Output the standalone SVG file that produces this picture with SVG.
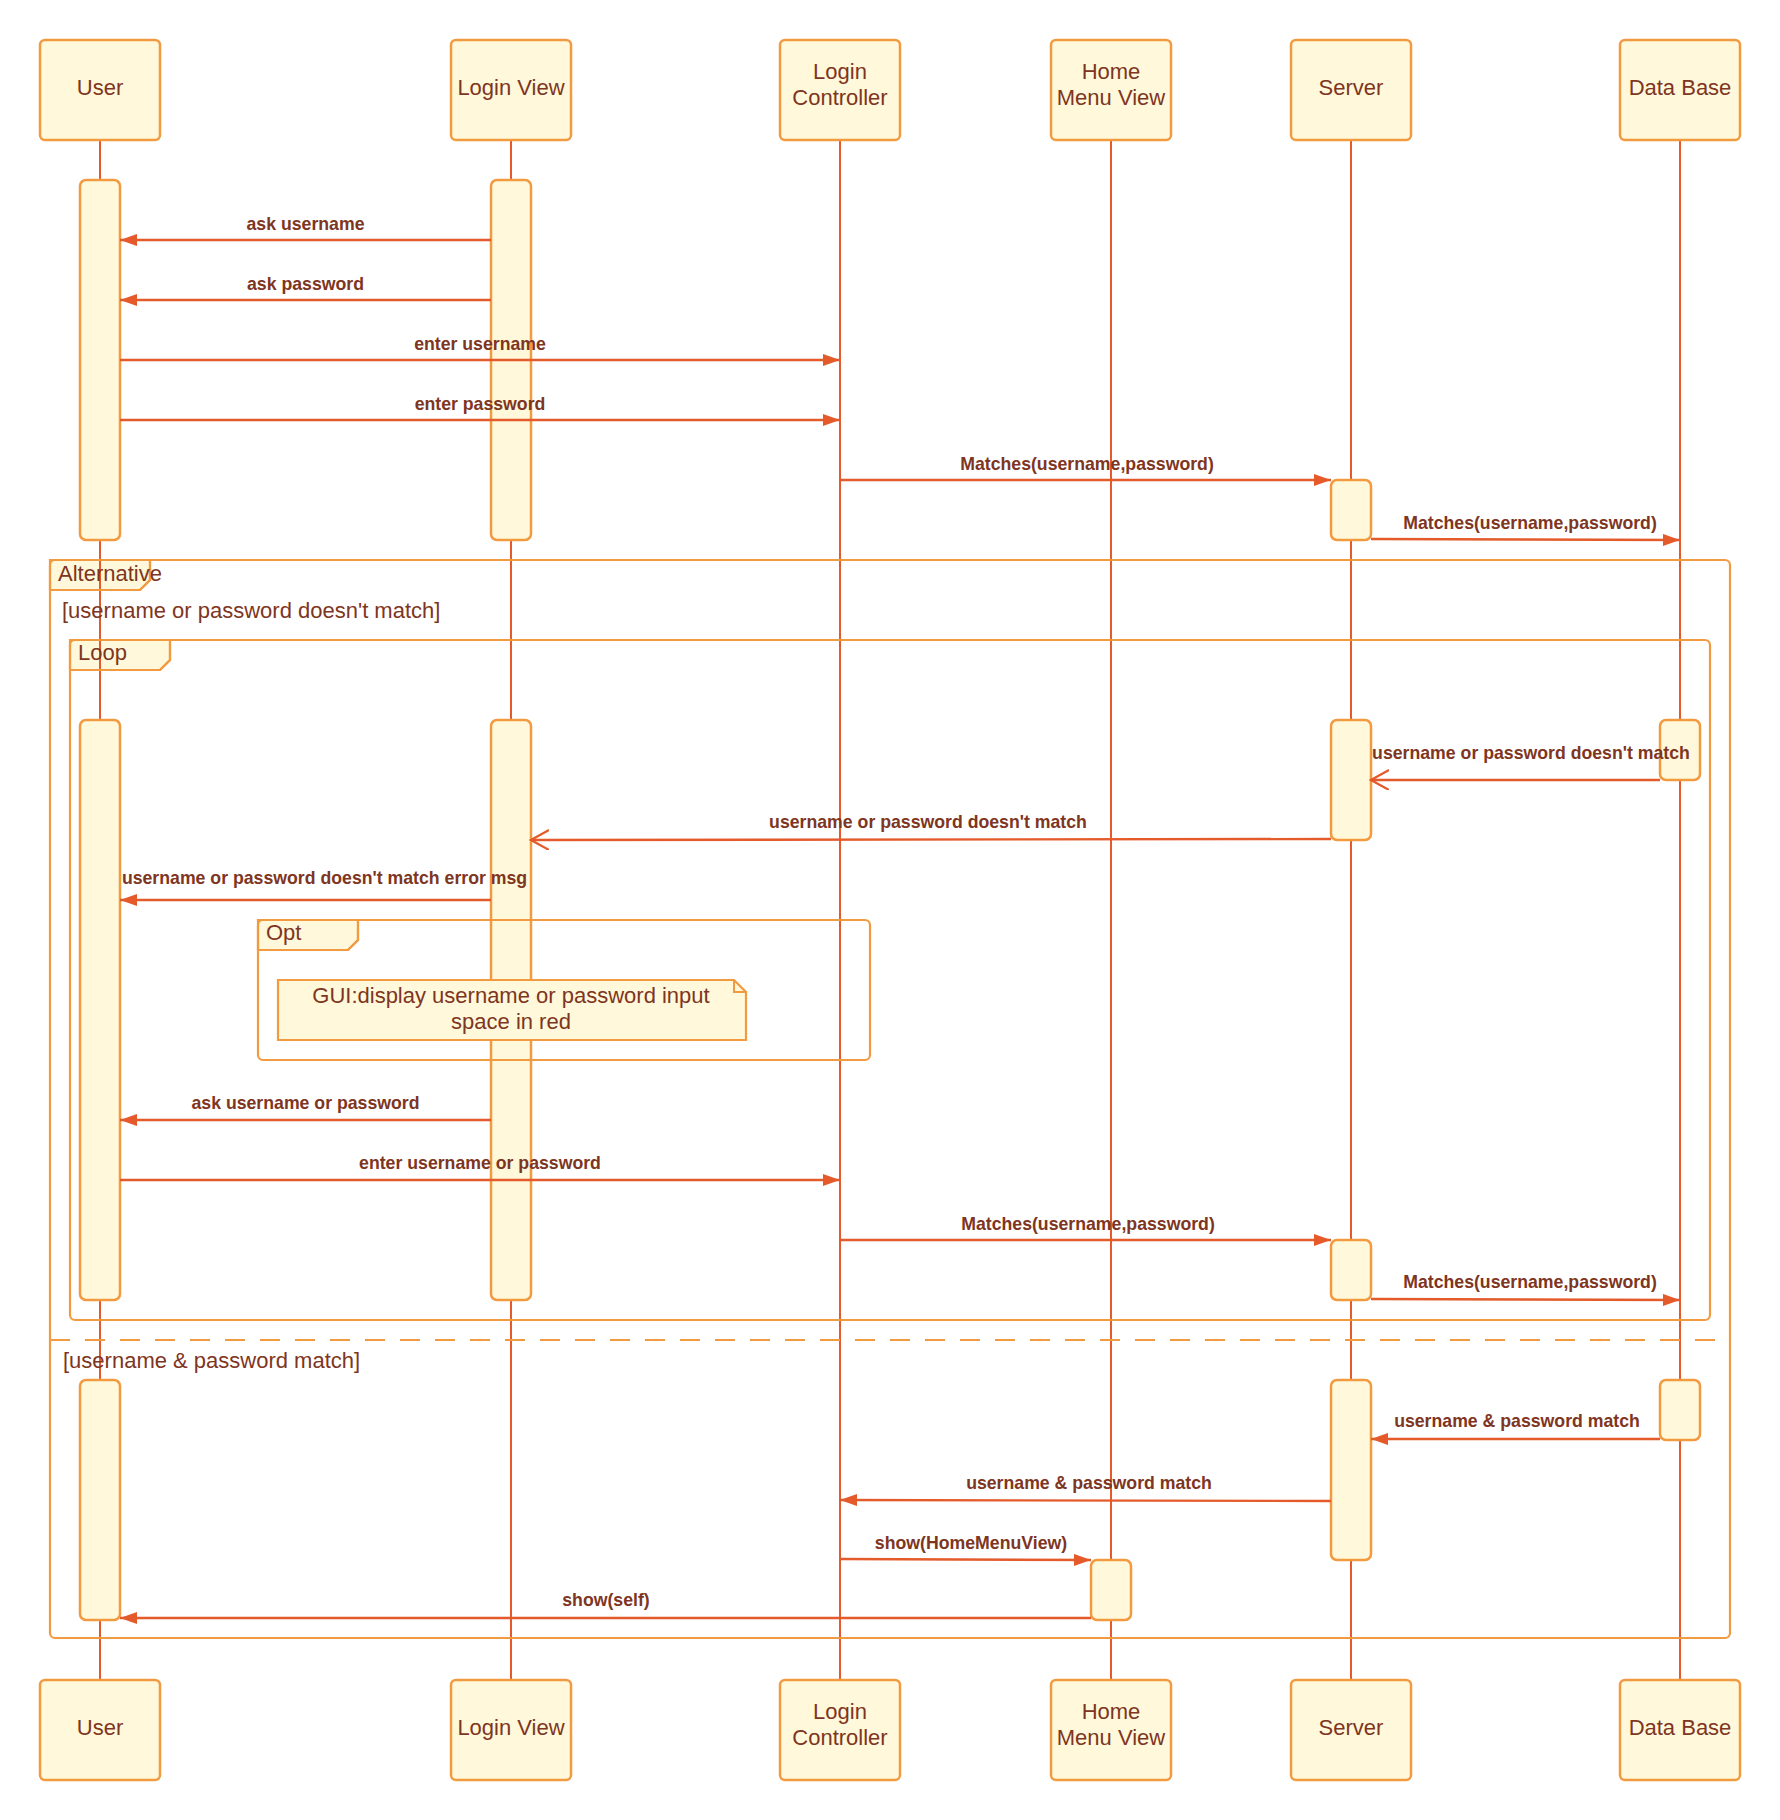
<svg xmlns="http://www.w3.org/2000/svg" width="1780" height="1820" viewBox="0 0 1780 1820">
<defs>
<style>
.box{fill:#FFF8DA;stroke:#F29A40;stroke-width:2.5}
.act{fill:#FFF8DA;stroke:#F29A40;stroke-width:2.5}
.life{stroke:#E45A2B;stroke-width:2;fill:none}
.frame{fill:none;stroke:#F29A40;stroke-width:2.2}
.tab{fill:#FFF8DA;stroke:#F29A40;stroke-width:2.2}
.msg{stroke:#E45A2B;stroke-width:2.4;fill:none}
.name{font-family:"Liberation Sans",Arial,sans-serif;font-size:22px;fill:#7E3521;text-anchor:middle}
.ftxt{font-family:"Liberation Sans",Arial,sans-serif;font-size:22px;fill:#7E3521}
.lbl{font-family:"Liberation Sans",Arial,sans-serif;font-size:17.7px;font-weight:bold;fill:#7E3521;text-anchor:middle}
</style>
<marker id="fa" markerUnits="userSpaceOnUse" markerWidth="18" markerHeight="13" refX="17" refY="6" orient="auto">
<path d="M0,0 L17,6 L0,12 Z" fill="#E45A2B"/>
</marker>
<marker id="oa" markerUnits="userSpaceOnUse" markerWidth="20" markerHeight="22" refX="18" refY="10" orient="auto">
<path d="M0,0 L18,10 L0,20" fill="none" stroke="#E45A2B" stroke-width="2.2"/>
</marker>
</defs>
<rect width="1780" height="1820" fill="#FFFFFF"/>

<g id="frame-tabs">
<path class="tab" d="M50,560 H150 V580 L140,590 H50 Z"/>
<path class="tab" d="M70,640 H170 V660 L160,670 H70 Z"/>
<path class="tab" d="M258,920 H358 V940 L348,950 H258 Z"/>
</g>

<g id="lifelines">
<line class="life" x1="100" y1="140" x2="100" y2="1680"/>
<line class="life" x1="511" y1="140" x2="511" y2="1680"/>
<line class="life" x1="840" y1="140" x2="840" y2="1680"/>
<line class="life" x1="1111" y1="140" x2="1111" y2="1680"/>
<line class="life" x1="1351" y1="140" x2="1351" y2="1680"/>
<line class="life" x1="1680" y1="140" x2="1680" y2="1680"/>
</g>

<g id="user">
<rect class="box" x="40" y="40" width="120" height="100" rx="5"/>
<text class="name" x="100" y="95">User</text>
<rect class="box" x="40" y="1680" width="120" height="100" rx="5"/>
<text class="name" x="100" y="1734.5">User</text>
<rect class="act" x="80" y="180" width="40" height="360" rx="6"/>
<rect class="act" x="80" y="720" width="40" height="580" rx="6"/>
<rect class="act" x="80" y="1380" width="40" height="240" rx="6"/>
</g>

<g id="login-view">
<rect class="box" x="451" y="40" width="120" height="100" rx="5"/>
<text class="name" x="511" y="95">Login View</text>
<rect class="box" x="451" y="1680" width="120" height="100" rx="5"/>
<text class="name" x="511" y="1734.5">Login View</text>
<rect class="act" x="491" y="180" width="40" height="360" rx="6"/>
<rect class="act" x="491" y="720" width="40" height="580" rx="6"/>
</g>

<g id="login-controller">
<rect class="box" x="780" y="40" width="120" height="100" rx="5"/>
<text class="name" x="840" y="79">Login</text>
<text class="name" x="840" y="105">Controller</text>
<rect class="box" x="780" y="1680" width="120" height="100" rx="5"/>
<text class="name" x="840" y="1718.5">Login</text>
<text class="name" x="840" y="1744.5">Controller</text>
</g>

<g id="home-menu-view">
<rect class="box" x="1051" y="40" width="120" height="100" rx="5"/>
<text class="name" x="1111" y="79">Home</text>
<text class="name" x="1111" y="105">Menu View</text>
<rect class="box" x="1051" y="1680" width="120" height="100" rx="5"/>
<text class="name" x="1111" y="1718.5">Home</text>
<text class="name" x="1111" y="1744.5">Menu View</text>
<rect class="act" x="1091" y="1560" width="40" height="60" rx="6"/>
</g>

<g id="server">
<rect class="box" x="1291" y="40" width="120" height="100" rx="5"/>
<text class="name" x="1351" y="95">Server</text>
<rect class="box" x="1291" y="1680" width="120" height="100" rx="5"/>
<text class="name" x="1351" y="1734.5">Server</text>
<rect class="act" x="1331" y="480" width="40" height="60" rx="6"/>
<rect class="act" x="1331" y="720" width="40" height="120" rx="6"/>
<rect class="act" x="1331" y="1240" width="40" height="60" rx="6"/>
<rect class="act" x="1331" y="1380" width="40" height="180" rx="6"/>
</g>

<g id="data-base">
<rect class="box" x="1620" y="40" width="120" height="100" rx="5"/>
<text class="name" x="1680" y="95">Data Base</text>
<rect class="box" x="1620" y="1680" width="120" height="100" rx="5"/>
<text class="name" x="1680" y="1734.5">Data Base</text>
<rect class="act" x="1660" y="720" width="40" height="60" rx="6"/>
<rect class="act" x="1660" y="1380" width="40" height="60" rx="6"/>
</g>

<g id="frames">
<rect class="frame" x="50" y="560" width="1680" height="1078" rx="5"/>
<path class="frame" d="M50,560 H150 V580 L140,590 H50"/>
<text class="ftxt" x="58" y="581">Alternative</text>
<text class="ftxt" x="62" y="618">[username or password doesn't match]</text>
<rect class="frame" x="70" y="640" width="1640" height="680" rx="5"/>
<path class="frame" d="M70,640 H170 V660 L160,670 H70"/>
<text class="ftxt" x="78" y="660">Loop</text>
<rect class="frame" x="258" y="920" width="612" height="140" rx="5"/>
<path class="frame" d="M258,920 H358 V940 L348,950 H258"/>
<text class="ftxt" x="266" y="939.5">Opt</text>
<line x1="50" y1="1340" x2="1715" y2="1340" stroke="#F29A40" stroke-width="2.2" stroke-dasharray="20,15"/>
<text class="ftxt" x="63" y="1367.5">[username &amp; password match]</text>
</g>

<g id="note">
<path d="M278,980 H734 L746,992 V1040 H278 Z" fill="#FFF8DA" stroke="#F29A40" stroke-width="2.2"/>
<path d="M734,980 V992 H746" fill="none" stroke="#F29A40" stroke-width="2"/>
<text class="name" x="511" y="1002.5">GUI:display username or password input</text>
<text class="name" x="511" y="1029">space in red</text>
</g>

<g id="connectors">
<line class="msg" x1="491" y1="240" x2="120" y2="240" marker-end="url(#fa)"/>
<line class="msg" x1="491" y1="300" x2="120" y2="300" marker-end="url(#fa)"/>
<line class="msg" x1="120" y1="360" x2="840" y2="360" marker-end="url(#fa)"/>
<line class="msg" x1="120" y1="420" x2="840" y2="420" marker-end="url(#fa)"/>
<line class="msg" x1="840" y1="480" x2="1331" y2="480" marker-end="url(#fa)"/>
<line class="msg" x1="1371" y1="539" x2="1680" y2="540" marker-end="url(#fa)"/>
<line class="msg" x1="1660" y1="780" x2="1371" y2="780" marker-end="url(#oa)"/>
<line class="msg" x1="1331" y1="839" x2="531" y2="840" marker-end="url(#oa)"/>
<line class="msg" x1="491" y1="900" x2="120" y2="900" marker-end="url(#fa)"/>
<line class="msg" x1="491" y1="1120" x2="120" y2="1120" marker-end="url(#fa)"/>
<line class="msg" x1="120" y1="1180" x2="840" y2="1180" marker-end="url(#fa)"/>
<line class="msg" x1="840" y1="1240" x2="1331" y2="1240" marker-end="url(#fa)"/>
<line class="msg" x1="1371" y1="1299" x2="1680" y2="1300" marker-end="url(#fa)"/>
<line class="msg" x1="1660" y1="1439" x2="1371" y2="1439" marker-end="url(#fa)"/>
<line class="msg" x1="1331" y1="1501" x2="840" y2="1500" marker-end="url(#fa)"/>
<line class="msg" x1="840" y1="1559" x2="1091" y2="1560" marker-end="url(#fa)"/>
<line class="msg" x1="1091" y1="1618" x2="120" y2="1618" marker-end="url(#fa)"/>
</g>

<g id="labels">
<text class="lbl" x="305.5" y="229.5">ask username</text>
<text class="lbl" x="305.5" y="289.5">ask password</text>
<text class="lbl" x="480" y="349.5">enter username</text>
<text class="lbl" x="480" y="409.5">enter password</text>
<text class="lbl" x="1087" y="469.5">Matches(username,password)</text>
<text class="lbl" x="1530" y="529">Matches(username,password)</text>
<text class="lbl" x="1531" y="758.5">username or password doesn't match</text>
<text class="lbl" x="928" y="828">username or password doesn't match</text>
<text class="lbl" x="324.5" y="883.5">username or password doesn't match error msg</text>
<text class="lbl" x="305.5" y="1108.5">ask username or password</text>
<text class="lbl" x="480" y="1168.5">enter username or password</text>
<text class="lbl" x="1088" y="1229.5">Matches(username,password)</text>
<text class="lbl" x="1530" y="1287.5">Matches(username,password)</text>
<text class="lbl" x="1517" y="1427">username &amp; password match</text>
<text class="lbl" x="1089" y="1488.5">username &amp; password match</text>
<text class="lbl" x="971" y="1548.5">show(HomeMenuView)</text>
<text class="lbl" x="606" y="1606">show(self)</text>
</g>
</svg>
